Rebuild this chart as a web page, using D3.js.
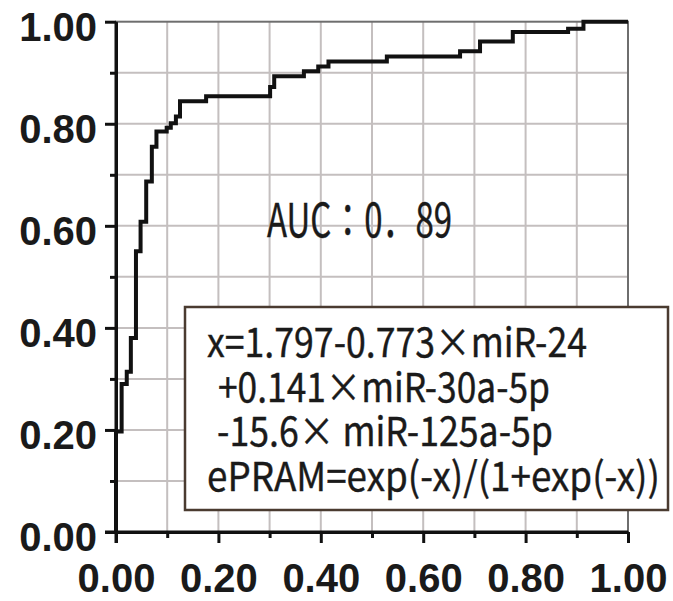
<!DOCTYPE html>
<html>
<head>
<meta charset="utf-8">
<script src="https://cdn.jsdelivr.net/npm/d3@7"></script>
<style>
  body { margin: 0; background: #fff; }
  svg { display: block; }
  .tick text { font-family: "Liberation Sans", Arial, sans-serif; font-weight: bold; font-size: 40px; fill: #1a1a1a; }
  .note { font-family: "Noto Sans CJK JP", "Noto Sans", sans-serif; fill: #1a1a1a; stroke: #1a1a1a; stroke-width: 0.4px; }
  .grid line { stroke: #c4bfbf; stroke-width: 2px; }
</style>
</head>
<body>
<svg id="chart"></svg>
<script>
// ROC curve corner points (stepAfter): false positive rate / true positive rate
var fpr = [0, 0, 0.011, 0.021, 0.029, 0.039, 0.048, 0.059, 0.070, 0.079, 0.099, 0.107, 0.117, 0.125,
  0.176, 0.301, 0.309, 0.367, 0.395, 0.415, 0.529, 0.672, 0.711, 0.775, 0.883, 0.913, 1.0];
var tpr = [0, 0.197, 0.290, 0.314, 0.380, 0.550, 0.608, 0.687, 0.755, 0.785, 0.792, 0.801, 0.814, 0.844,
  0.854, 0.872, 0.893, 0.903, 0.912, 0.922, 0.932, 0.942, 0.961, 0.980, 0.986, 1.0, 1.0];

var majorTicks = [0, 0.2, 0.4, 0.6, 0.8, 1.0];
var minorTicks = [0.1, 0.3, 0.5, 0.7, 0.9];
var gridValues = [0.1, 0.2, 0.3, 0.4, 0.5, 0.6, 0.7, 0.8, 0.9];

var aucLabel = 'AUC\uFF1A0\uFF0E89';
var formulaLines = [
  'x=1.797-0.773\u00D7miR-24',
  '+0.141\u00D7miR-30a-5p',
  '-15.6\u00D7 miR-125a-5p',
  'ePRAM=exp(-x)/(1+exp(-x))'
];

var width = 673,
  height = 601;

var svg = d3.select('#chart')
  .attr('width', width)
  .attr('height', height);

var x = d3.scaleLinear().domain([0, 1]).range([116, 628]);
var y = d3.scaleLinear().domain([0, 1]).range([532, 21.7]);

var fmt = d3.format('.2f');

// grid
var grid = svg.append('g').attr('class', 'grid');
grid.selectAll('.gx')
  .data(gridValues)
  .enter().append('line')
  .attr('class', 'gx')
  .attr('x1', function(d) { return x(d); })
  .attr('x2', function(d) { return x(d); })
  .attr('y1', y(0))
  .attr('y2', y(1));
grid.selectAll('.gy')
  .data(gridValues)
  .enter().append('line')
  .attr('class', 'gy')
  .attr('x1', x(0))
  .attr('x2', x(1))
  .attr('y1', function(d) { return y(d); })
  .attr('y2', function(d) { return y(d); });

// frame (top / right)
svg.append('rect')
  .attr('x', x(0))
  .attr('y', y(1))
  .attr('width', x(1) - x(0))
  .attr('height', y(0) - y(1))
  .attr('fill', 'none')
  .attr('stroke', '#6e6e6e')
  .attr('stroke-width', 2);

// formula box
var boxG = svg.append('g');
boxG.append('rect')
  .attr('x', 185)
  .attr('y', 307)
  .attr('width', 483)
  .attr('height', 203)
  .attr('fill', '#fff')
  .attr('stroke', '#4a3b30')
  .attr('stroke-width', 2.5);

var lineX = [207, 218, 217, 207];
var lineW = [380, 332, 336, 453];
boxG.selectAll('.note')
  .data(formulaLines)
  .enter().append('text')
  .attr('class', 'note')
  .attr('x', function(d, i) { return lineX[i]; })
  .attr('y', function(d, i) { return 357 + i * 44.5; })
  .attr('font-size', 40)
  .attr('textLength', function(d, i) { return lineW[i]; })
  .attr('lengthAdjust', 'spacingAndGlyphs')
  .text(function(d) { return d; });

svg.append('text')
  .attr('class', 'note')
  .attr('x', 267)
  .attr('y', 237)
  .attr('font-size', 47)
  .attr('textLength', 185)
  .attr('lengthAdjust', 'spacingAndGlyphs')
  .text(aucLabel);

// ROC curve
var pts = fpr.map(function(d, i) { return [d, tpr[i]]; });
svg.append('path')
  .datum(pts)
  .attr('fill', 'none')
  .attr('stroke', '#111')
  .attr('stroke-width', 4)
  .attr('stroke-linejoin', 'miter')
  .attr('d', d3.line()
    .x(function(d) { return x(d[0]); })
    .y(function(d) { return y(d[1]); })
    .curve(d3.curveStepAfter));

// axes
function styleAxis(g) {
  g.selectAll('.domain').attr('stroke', '#111').attr('stroke-width', 3);
  g.selectAll('.tick line').attr('stroke', '#111').attr('stroke-width', 3);
}

svg.append('g')
  .attr('transform', 'translate(' + x(0) + ',0)')
  .call(d3.axisLeft(y).tickValues(minorTicks).tickSize(6).tickSizeOuter(0).tickFormat(''))
  .call(styleAxis);

svg.append('g')
  .attr('transform', 'translate(0,' + y(0) + ')')
  .call(d3.axisBottom(x).tickValues(minorTicks).tickSize(6).tickSizeOuter(0).tickFormat(''))
  .call(styleAxis);

var yAxis = svg.append('g')
  .attr('transform', 'translate(' + x(0) + ',0)')
  .call(d3.axisLeft(y).tickValues(majorTicks).tickSize(11).tickSizeOuter(0).tickPadding(8).tickFormat(fmt))
  .call(styleAxis);
yAxis.selectAll('.tick text').attr('dy', '0.47em');
yAxis.select('.domain').attr('d', 'M0,' + y(1) + 'V' + (y(0) + 11));

var xAxis = svg.append('g')
  .attr('transform', 'translate(0,' + y(0) + ')')
  .call(d3.axisBottom(x).tickValues(majorTicks).tickSize(11).tickSizeOuter(0).tickPadding(21).tickFormat(fmt))
  .call(styleAxis);
xAxis.select('.domain').attr('d', 'M' + (x(0) - 11) + ',0H' + x(1));
</script>
</body>
</html>
